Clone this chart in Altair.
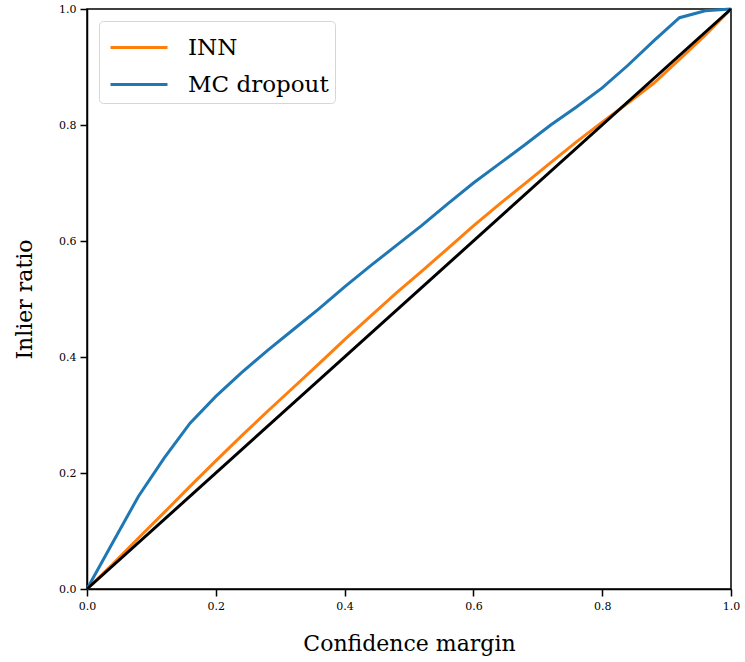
import altair as alt
import pandas as pd

# Confidence-margin thresholds and the inlier ratio reached at each one
margin = [0.0, 0.04, 0.08, 0.12, 0.16, 0.20, 0.24, 0.28, 0.32, 0.36, 0.40,
          0.44, 0.48, 0.52, 0.56, 0.60, 0.64, 0.68, 0.72, 0.76, 0.80,
          0.84, 0.88, 0.92, 0.96, 1.0]
inn = [0.0, 0.043, 0.088, 0.132, 0.177, 0.221, 0.264, 0.306, 0.347, 0.388, 0.430,
       0.470, 0.510, 0.548, 0.587, 0.626, 0.663, 0.699, 0.735, 0.771, 0.805,
       0.838, 0.872, 0.913, 0.955, 1.0]
mc_dropout = [0.0, 0.08, 0.16, 0.226, 0.286, 0.332, 0.373, 0.411, 0.447, 0.483, 0.521,
              0.557, 0.592, 0.627, 0.664, 0.700, 0.733, 0.766, 0.800, 0.831, 0.864,
              0.903, 0.945, 0.985, 0.997, 1.0]

series_names = ["INN", "MC dropout"]
series_colors = ["#ff7f0e", "#1f77b4"]

# Perfect-calibration reference
diag_x = [0.0, 1.0]
diag_y = [0.0, 1.0]

curves = pd.DataFrame({
    "margin": margin * 2,
    "ratio": inn + mc_dropout,
    "method": ["INN"] * len(margin) + ["MC dropout"] * len(margin),
})
diag = pd.DataFrame({"margin": diag_x, "ratio": diag_y})

x_enc = alt.X("margin:Q", title="Confidence margin",
              scale=alt.Scale(domain=[0, 1], nice=False),
              axis=alt.Axis(values=[0, 0.2, 0.4, 0.6, 0.8, 1.0], format=".1f",
                            labelFlush=False, titlePadding=22))
y_enc = alt.Y("ratio:Q", title="Inlier ratio",
              scale=alt.Scale(domain=[0, 1], nice=False),
              axis=alt.Axis(values=[0, 0.2, 0.4, 0.6, 0.8, 1.0], format=".1f",
                            labelFlush=False, titlePadding=22))

# Long horizontal legend key, drawn from the left edge of the symbol slot
legend_key = "M-0.789,0H2.21"

lines = alt.Chart(curves).mark_line(strokeWidth=3).encode(
    x=x_enc,
    y=y_enc,
    color=alt.Color(
        "method:N",
        scale=alt.Scale(domain=series_names, range=series_colors),
        legend=alt.Legend(
            title=None,
            orient="top-left",
            offset=12,
            symbolType=legend_key,
            symbolSize=1444,
            symbolStrokeWidth=3,
            labelFontSize=23,
            labelOffset=42,
            rowPadding=4,
            padding=6,
            fillColor="white",
            strokeColor="#d6d6d6",
            cornerRadius=4,
        ),
    ),
    order=alt.Order("margin:Q"),
)

diagonal = alt.Chart(diag).mark_line(strokeWidth=3, color="black").encode(
    x="margin:Q",
    y="ratio:Q",
)

chart = alt.layer(lines, diagonal).properties(
    width=644,
    height=580,
    autosize=alt.AutoSizeParams(type="none"),
    padding={"left": 87, "top": 9, "right": 14, "bottom": 73},
).configure(
    font="DejaVu Serif",
).configure_axis(
    grid=False,
    labelFontSize=11,
    labelColor="black",
    labelPadding=4,
    titleFontSize=22,
    titleFontWeight="normal",
    titleColor="black",
    tickColor="black",
    tickSize=7,
    tickWidth=1.5,
    domainColor="black",
    domainWidth=1.5,
).configure_view(
    stroke="black",
    strokeWidth=1.5,
)

chart.save("out.html", embed_options={"renderer": "svg", "actions": False})
